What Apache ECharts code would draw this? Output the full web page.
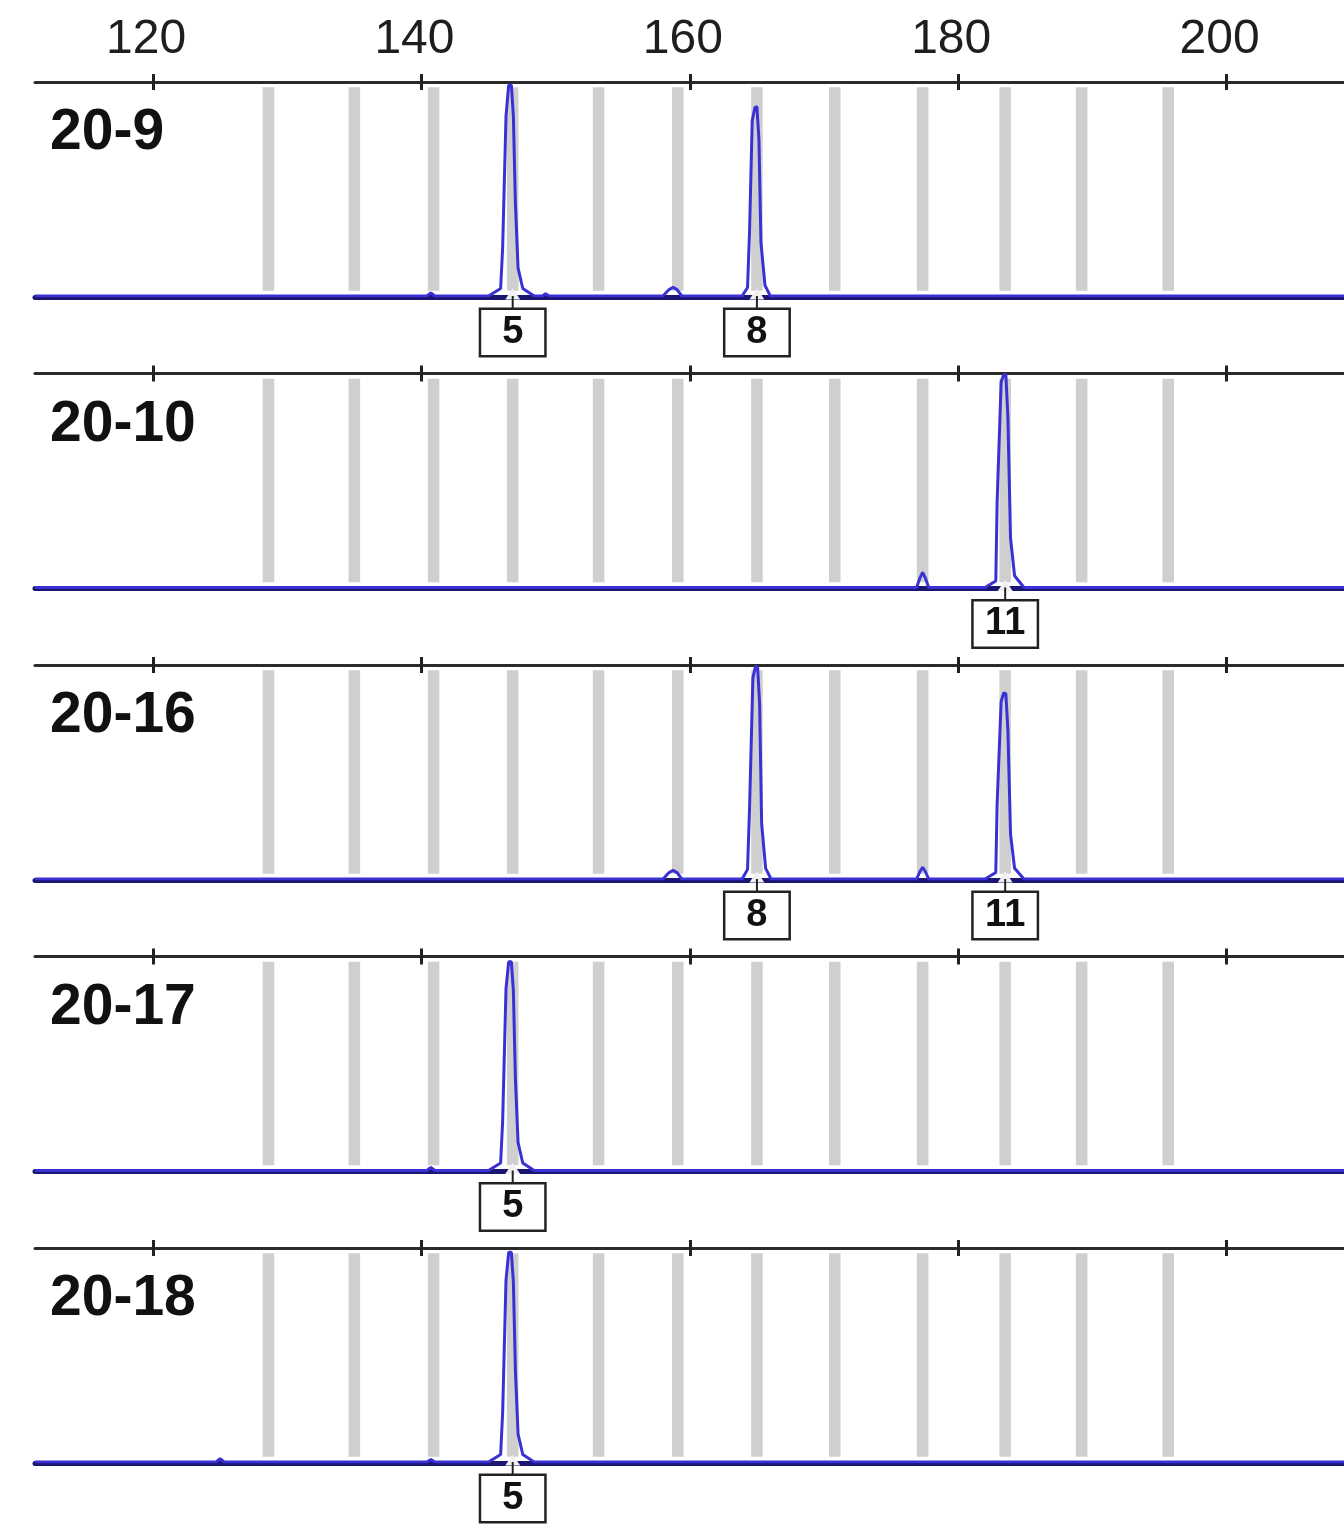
<!DOCTYPE html>
<html>
<head>
<meta charset="utf-8">
<script src="https://cdn.jsdelivr.net/npm/echarts@6/dist/echarts.min.js"></script>
<style>
  html, body { margin: 0; padding: 0; background: #ffffff; }
  #chart { width: 1344px; height: 1525px; }
</style>
</head>
<body>
<div id="chart"></div>
<script>
// Fragment size scale (bp) and tick labels
const sizeTicks = [120, 140, 160, 180, 200];
const sizeRange = [111.2, 208.75];
const rfuRange = [0, 1000];

// Allelic bin centres (bp)
const binSizes = [128.6, 135.0, 140.9, 146.8, 153.2, 159.1, 165.0, 170.8, 177.35, 183.5, 189.2, 195.65];

// Sample names, top to bottom
const sampleNames = ['20-9', '20-10', '20-16', '20-17', '20-18'];

// Electropherogram traces: [size (bp), signal]
const trace_20_9 = [
  [111.2, 0],
  [140.4, 0], [140.7, 14], [141.0, 0],
  [145.0, 0], [145.9, 35], [146.05, 225], [146.3, 840], [146.5, 985], [146.7, 985],
  [146.85, 840], [147.0, 435], [147.2, 130], [147.55, 35], [148.4, 0],
  [149.0, 0], [149.25, 10], [149.5, 0],
  [158.0, 0], [158.45, 30], [158.75, 40], [159.05, 30], [159.4, 0],
  [163.9, 0], [164.3, 40], [164.45, 300], [164.65, 820], [164.85, 880], [165.0, 885],
  [165.15, 730], [165.3, 250], [165.6, 50], [166.0, 0],
  [208.75, 0]
];
const trace_20_10 = [
  [111.2, 0],
  [176.9, 0], [177.15, 45], [177.35, 70], [177.55, 45], [177.8, 0],
  [182.0, 0], [182.8, 30], [182.9, 400], [183.2, 960], [183.4, 995], [183.55, 995],
  [183.7, 800], [183.9, 230], [184.2, 55], [184.9, 0],
  [208.75, 0]
];
const trace_20_16 = [
  [111.2, 0],
  [158.0, 0], [158.45, 30], [158.75, 40], [159.05, 30], [159.4, 0],
  [163.9, 0], [164.3, 45], [164.45, 330], [164.7, 940], [164.9, 995], [165.05, 990],
  [165.2, 820], [165.35, 260], [165.65, 50], [166.05, 0],
  [176.9, 0], [177.15, 35], [177.35, 55], [177.55, 35], [177.8, 0],
  [182.0, 0], [182.8, 30], [182.9, 350], [183.2, 830], [183.4, 870], [183.55, 865],
  [183.7, 700], [183.9, 210], [184.2, 50], [184.9, 0],
  [208.75, 0]
];
const trace_20_17 = [
  [111.2, 0],
  [140.4, 0], [140.7, 14], [141.0, 0],
  [145.0, 0], [145.9, 35], [146.05, 230], [146.3, 850], [146.5, 975], [146.7, 975],
  [146.85, 840], [147.0, 430], [147.2, 130], [147.55, 35], [148.4, 0],
  [208.75, 0]
];
const trace_20_18 = [
  [111.2, 0],
  [124.7, 0], [125.0, 15], [125.3, 0],
  [140.4, 0], [140.7, 12], [141.0, 0],
  [145.0, 0], [145.9, 35], [146.05, 230], [146.3, 850], [146.5, 980], [146.7, 980],
  [146.85, 840], [147.0, 430], [147.2, 130], [147.55, 35], [148.4, 0],
  [208.75, 0]
];

// Allele calls: [size (bp), allele]
const calls_20_9 = [[146.8, '5'], [165.0, '8']];
const calls_20_10 = [[183.5, '11']];
const calls_20_16 = [[165.0, '8'], [183.5, '11']];
const calls_20_17 = [[146.8, '5']];
const calls_20_18 = [[146.8, '5']];

const traces = [trace_20_9, trace_20_10, trace_20_16, trace_20_17, trace_20_18];
const calls = [calls_20_9, calls_20_10, calls_20_16, calls_20_17, calls_20_18];

// Panel layout
const PANEL_TOP = 82;
const PANEL_STEP = 291.5;
const PANEL_H = 214;
const PANEL_LEFT = 35;
const BIN_HALF = 0.43;

const FONT = '"Liberation Sans", Arial, Helvetica, sans-serif';
const TRACE_BLUE = '#3a31d4';
const BASE_NAVY = '#1b1672';

const grid = [], xAxis = [], yAxis = [], series = [], title = [];

sampleNames.forEach((name, i) => {
  const top = PANEL_TOP + i * PANEL_STEP;
  grid.push({ left: PANEL_LEFT, right: 0, top: top, height: PANEL_H });

  // top axis: line, outward ticks, labels on the first panel only
  xAxis.push({
    type: 'value', gridIndex: i, position: 'top',
    min: sizeRange[0], max: sizeRange[1],
    axisLine: { show: true, onZero: false, lineStyle: { color: '#2b2b2b', width: 3 } },
    axisTick: { show: true, length: 8, customValues: sizeTicks, lineStyle: { color: '#222', width: 3 } },
    axisLabel: {
      show: i === 0, customValues: sizeTicks, margin: 18,
      fontSize: 48, color: '#1e1e1e', fontFamily: FONT,
      padding: [0, 14, 0, 0]
    },
    splitLine: { show: false }
  });
  // inward halves of the tick marks
  xAxis.push({
    type: 'value', gridIndex: i, position: 'top',
    min: sizeRange[0], max: sizeRange[1],
    axisLine: { show: false, onZero: false },
    axisTick: { show: true, inside: true, length: 8, customValues: sizeTicks, lineStyle: { color: '#222', width: 3 } },
    axisLabel: { show: false },
    splitLine: { show: false }
  });
  // baseline
  xAxis.push({
    type: 'value', gridIndex: i, position: 'bottom', offset: 1,
    min: sizeRange[0], max: sizeRange[1],
    axisLine: { show: true, onZero: false, lineStyle: { color: BASE_NAVY, width: 5 } },
    axisTick: { show: false }, axisLabel: { show: false }, splitLine: { show: false }
  });
  yAxis.push({
    type: 'value', gridIndex: i, min: rfuRange[0], max: rfuRange[1], show: false
  });

  title.push({
    text: name, left: 45, top: top + 52 - 29 - 5,
    textStyle: { fontSize: 57, fontWeight: 'bold', color: '#111', fontFamily: FONT }
  });

  const xi = i * 3;

  // trace with allelic bins behind it
  series.push({
    type: 'line', xAxisIndex: xi, yAxisIndex: i,
    data: traces[i], showSymbol: false, smooth: false, silent: true,
    lineStyle: { color: TRACE_BLUE, width: 3 },
    markArea: {
      silent: true,
      itemStyle: { color: '#cfcfcf', opacity: 1 },
      data: binSizes.map(c => [{ xAxis: c - BIN_HALF, yAxis: 25 }, { xAxis: c + BIN_HALF, yAxis: 975 }])
    },
    z: 3
  });

  // light notch at the foot of each called peak
  series.push({
    type: 'scatter', xAxisIndex: xi, yAxisIndex: i, clip: false, silent: true,
    data: calls[i].map(c => [c[0], 0]),
    symbol: 'triangle', symbolSize: [15, 11], symbolOffset: [0, -2],
    itemStyle: { color: '#f0f0f0', opacity: 1 },
    z: 2
  });

  // allele call boxes with connector
  series.push({
    type: 'scatter', xAxisIndex: xi, yAxisIndex: i, clip: false, silent: true,
    data: calls[i].map(c => [c[0], 0, c[1]]),
    symbol: 'rect', symbolSize: [2, 14], symbolOffset: [0, 7],
    itemStyle: { color: '#222', opacity: 1 },
    label: {
      show: true, position: 'bottom', distance: 0,
      formatter: p => p.value[2],
      fontSize: 38, fontWeight: 'bold', color: '#111', fontFamily: FONT,
      backgroundColor: '#ffffff', borderColor: '#222', borderWidth: 2.5,
      width: 63, height: 45, lineHeight: 45, align: 'center',
      padding: [0, 0]
    },
    z: 4
  });
});

const chart = echarts.init(document.getElementById('chart'), null, { renderer: 'canvas' });
chart.setOption({
  animation: false,
  backgroundColor: '#ffffff',
  title, grid, xAxis, yAxis, series
});
</script>
</body>
</html>
